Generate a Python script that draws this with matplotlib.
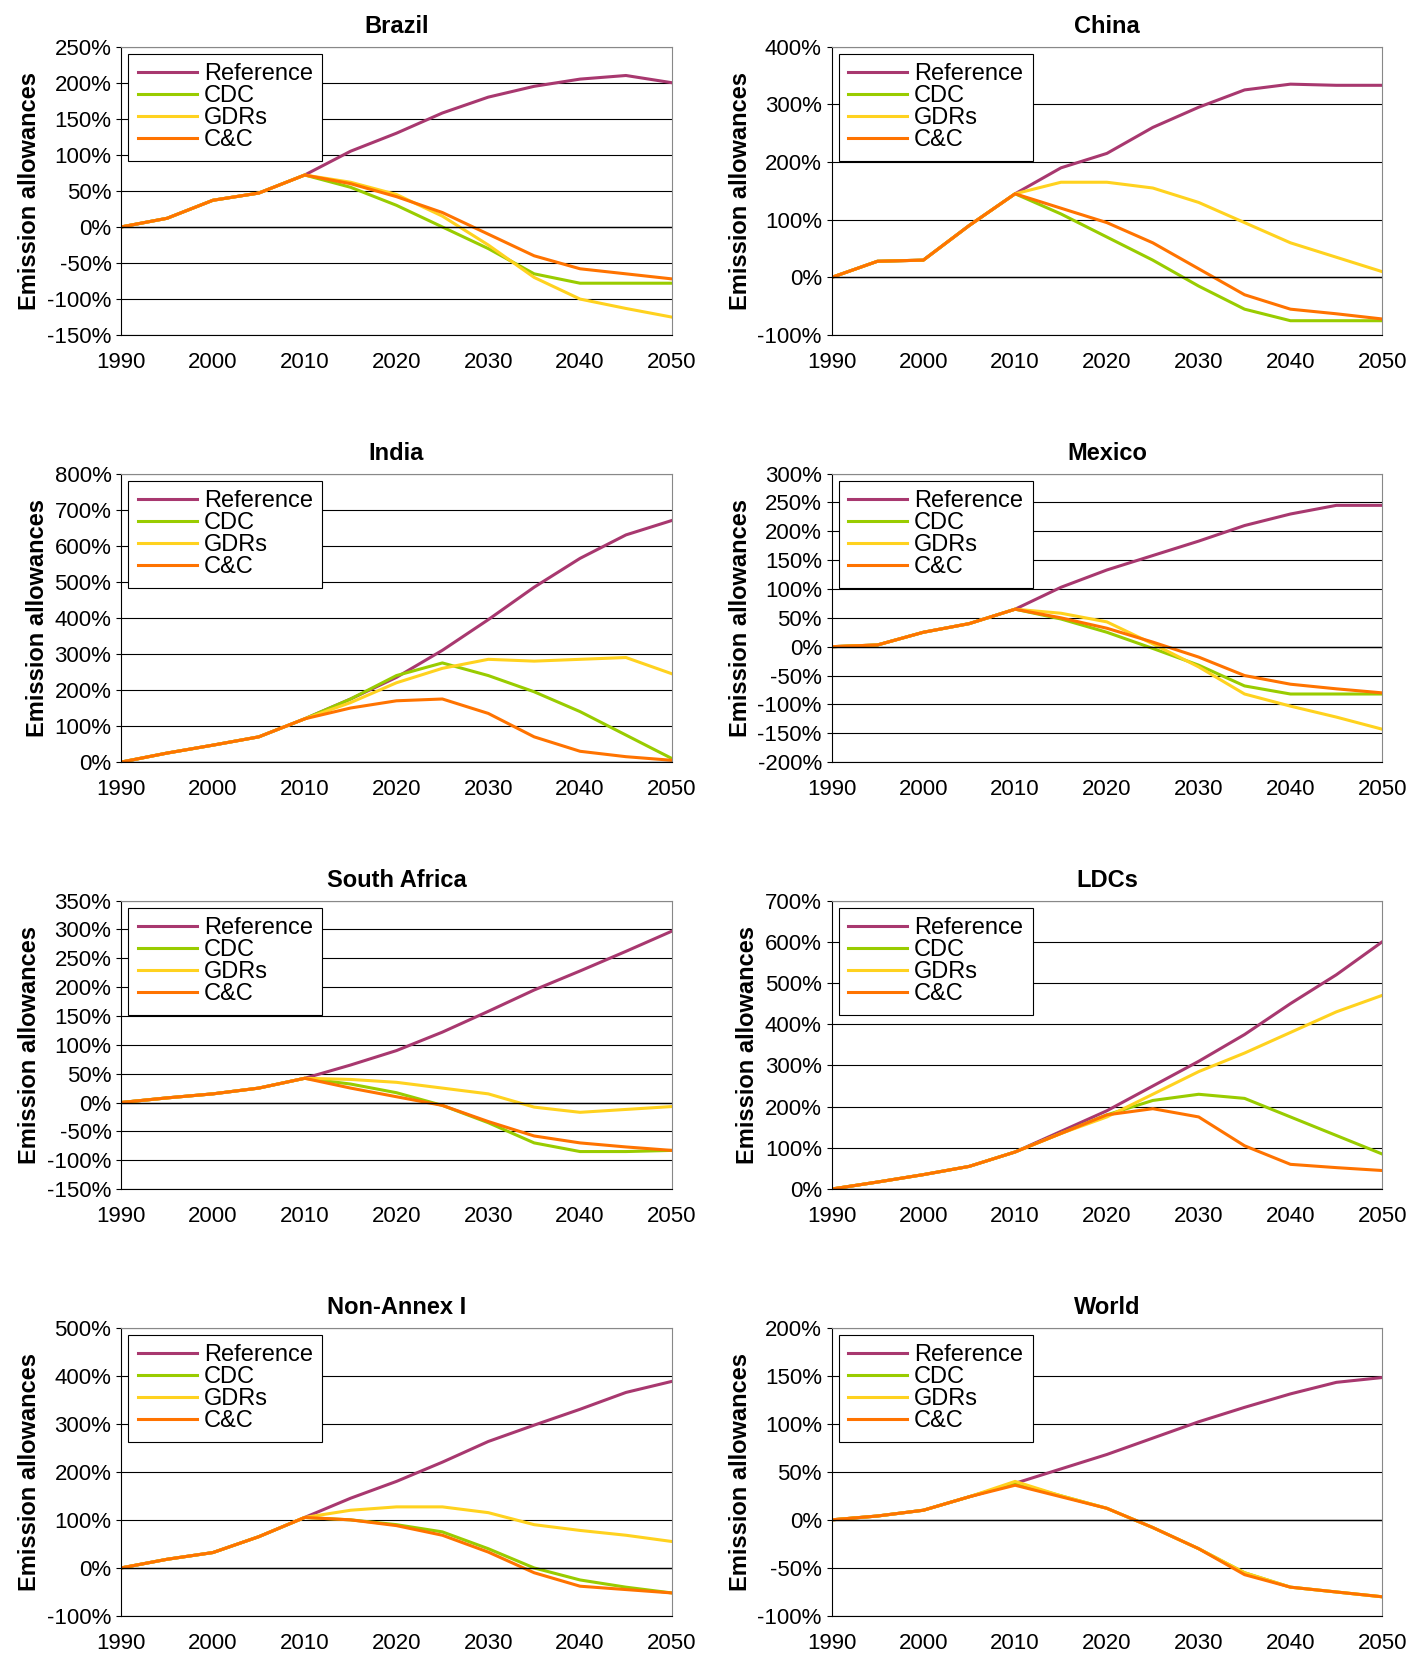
import matplotlib
matplotlib.use("Agg")
import matplotlib.pyplot as plt
from matplotlib.ticker import MultipleLocator, FuncFormatter

plt.rcParams['font.family'] = ['Liberation Sans', 'DejaVu Sans']

years = list(range(1990, 2051, 5))
series_names = ["Reference", "CDC", "GDRs", "C&C"]
colors = ["#A8386F", "#99CC00", "#FFD21F", "#FF7300"]

brazil = [
    [0, 12, 37, 47, 72, 105, 130, 158, 180, 195, 205, 210, 200],
    [0, 12, 37, 47, 72, 55, 30, 0, -30, -65, -78, -78, -78],
    [0, 12, 37, 47, 72, 62, 45, 15, -25, -70, -100, -113, -125],
    [0, 12, 37, 47, 72, 60, 42, 20, -10, -40, -58, -65, -72],
]
china = [
    [0, 28, 30, 90, 145, 190, 215, 260, 295, 325, 335, 333, 333],
    [0, 28, 30, 90, 145, 110, 70, 30, -15, -55, -75, -75, -75],
    [0, 28, 30, 90, 145, 165, 165, 155, 130, 95, 60, 35, 10],
    [0, 28, 30, 90, 145, 120, 95, 60, 15, -30, -55, -63, -72],
]
india = [
    [0, 25, 47, 70, 120, 175, 235, 310, 395, 485, 565, 630, 670],
    [0, 25, 47, 70, 120, 175, 240, 275, 240, 195, 140, 75, 10],
    [0, 25, 47, 70, 120, 165, 220, 260, 285, 280, 285, 290, 245],
    [0, 25, 47, 70, 120, 150, 170, 175, 135, 70, 30, 15, 5],
]
mexico = [
    [0, 3, 25, 40, 65, 103, 133, 158, 183, 210, 230, 245, 245],
    [0, 3, 25, 40, 65, 48, 25, -3, -32, -68, -82, -82, -82],
    [0, 3, 25, 40, 65, 58, 43, 5, -35, -82, -103, -122, -143],
    [0, 3, 25, 40, 65, 50, 32, 8, -18, -50, -65, -73, -80],
]
south_africa = [
    [0, 8, 15, 25, 42, 65, 90, 122, 158, 195, 228, 262, 297],
    [0, 8, 15, 25, 42, 32, 17, -5, -35, -70, -85, -85, -83],
    [0, 8, 15, 25, 42, 40, 35, 25, 15, -8, -17, -12, -7],
    [0, 8, 15, 25, 42, 25, 10, -5, -33, -58, -70, -77, -83],
]
ldcs = [
    [0, 17, 35, 55, 90, 140, 190, 250, 310, 375, 450, 520, 600],
    [0, 17, 35, 55, 90, 135, 180, 215, 230, 220, 175, 130, 85],
    [0, 17, 35, 55, 90, 135, 175, 230, 285, 330, 380, 430, 470],
    [0, 17, 35, 55, 90, 135, 180, 195, 175, 105, 60, 52, 45],
]
non_annex = [
    [0, 18, 32, 65, 105, 145, 180, 220, 263, 297, 330, 365, 388],
    [0, 18, 32, 65, 105, 100, 90, 75, 40, 0, -25, -40, -52],
    [0, 18, 32, 65, 105, 120, 127, 127, 115, 90, 78, 68, 55],
    [0, 18, 32, 65, 105, 100, 88, 68, 33, -10, -38, -45, -52],
]
world = [
    [0, 4, 10, 24, 38, 53, 68, 85, 102, 117, 131, 143, 148],
    [0, 4, 10, 24, 38, 25, 12, -8, -30, -55, -70, -75, -80],
    [0, 4, 10, 24, 40, 25, 12, -8, -30, -55, -70, -75, -80],
    [0, 4, 10, 24, 36, 24, 12, -8, -30, -57, -70, -75, -80],
]

panels = [
    ("Brazil", brazil, (-150, 250), 50),
    ("China", china, (-100, 400), 100),
    ("India", india, (0, 800), 100),
    ("Mexico", mexico, (-200, 300), 50),
    ("South Africa", south_africa, (-150, 350), 50),
    ("LDCs", ldcs, (0, 700), 100),
    ("Non-Annex I", non_annex, (-100, 500), 100),
    ("World", world, (-100, 200), 50),
]

fig, axes = plt.subplots(4, 2, figsize=(14.25, 16.66), dpi=100)
for ax, (title, data, ylim, step) in zip(axes.flat, panels):
    for vals, name, c in zip(data, series_names, colors):
        ax.plot(years, vals, color=c, lw=2.2, label=name)
    ax.set_xlim(1990, 2050)
    ax.set_ylim(*ylim)
    ax.yaxis.set_major_locator(MultipleLocator(step))
    ax.yaxis.set_major_formatter(FuncFormatter(lambda v, p: f"{v:.0f}%"))
    ax.xaxis.set_major_locator(MultipleLocator(10))
    ax.grid(axis="y", color="black", lw=0.8)
    ax.axhline(0, color="black", lw=1)
    ax.tick_params(axis="x", length=0, labelsize=16, pad=12)
    ax.tick_params(axis="y", labelsize=16)
    for s in ["top", "right"]:
        ax.spines[s].set_color("#888888")
    ax.set_title(title, fontsize=17, fontweight="bold", pad=10)
    ax.set_ylabel("Emission allowances", fontsize=17, fontweight="bold")
    leg = ax.legend(loc="upper left", fontsize=17, fancybox=False, edgecolor="black",
                    handlelength=2.5, labelspacing=0.0, borderaxespad=0.3,
                    handletextpad=0.3, framealpha=1)
    leg.get_frame().set_linewidth(0.8)

fig.subplots_adjust(left=0.085, right=0.97, top=0.972, bottom=0.03, wspace=0.29, hspace=0.48)
fig.savefig("out.png", dpi=100)
